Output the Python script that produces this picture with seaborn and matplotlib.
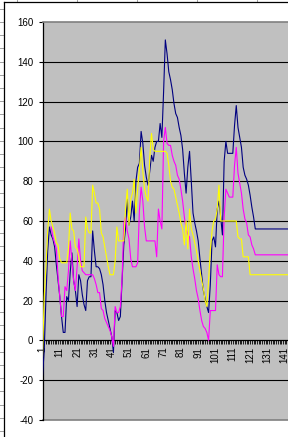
import numpy as np
import pandas as pd
import matplotlib
matplotlib.use("Agg")
import matplotlib.pyplot as plt
import seaborn as sns
from matplotlib.lines import Line2D

plt.rcParams['font.family'] = ['Liberation Sans', 'DejaVu Sans']

# ---------------- data ----------------
categories = list(range(1, 151))

navy_values = [
    -18, -5, 22, 45, 57, 53, 51, 47, 38, 30,
    22, 12, 4, 4, 22, 20, 34, 44, 30, 25,
    17, 33, 30, 23, 18, 15, 30, 32, 32, 55,
    45, 37, 37, 36, 33, 28, 20, 14, 10, 6,
    2, -6, 15, 14, 10, 12, 30, 48, 56, 71,
    58, 62, 70, 60, 80, 87, 89, 105, 99, 88,
    82, 78, 85, 93, 90, 97, 100, 100, 109, 102,
    125, 151, 144, 135, 131, 126, 119, 114, 112, 107,
    103, 96, 84, 74, 87, 95, 80, 64, 59, 55,
    50, 41, 33, 25, 21, 17, 14, 28, 50, 52,
    47, 66, 70, 62, 53, 90, 100, 94, 94, 94,
    94, 108, 118, 107, 102, 97, 87, 83, 81, 78,
    73, 67, 62, 56, 56, 56, 56, 56, 56, 56,
    56, 56, 56, 56, 56, 56, 56, 56, 56, 56,
    56, 56, 56, 56, 56, 56, 56, 56, 56, 56,
]

magenta_values = [
    np.nan, np.nan, np.nan, np.nan, np.nan, 57, 52, 49, 46, 32,
    22, 12, 12, 27, 25, 35, 50, 40, 30, 25,
    37, 51, 40, 35, 34, 33, 33, 33, 33, 33,
    31, 28, 24, 24, 16, 15, 11, 9, 7, 5,
    2, -3, 17, 14, 14, 17, 31, 59, 62, 55,
    51, 41, 37, 37, 37, 39, 65, 77, 70, 57,
    50, 50, 50, 50, 50, 50, 42, 66, 60, 56,
    100, 107, 99, 98, 98, 93, 90, 88, 83, 81,
    76, 70, 62, 56, 53, 52, 42, 36, 31, 25,
    21, 15, 10, 7, 6, 4, 0, 15, 15, 15,
    15, 38, 33, 32, 32, 62, 76, 74, 72, 72,
    72, 88, 97, 84, 79, 74, 66, 61, 59, 53,
    52, 48, 46, 43, 43, 43, 43, 43, 43, 43,
    43, 43, 43, 43, 43, 43, 43, 43, 43, 43,
    43, 43, 43, 43, 43, 43, 43, 43, 43, 43,
]

yellow_values = [
    -8, 22, 37, 55, 66, 60, 57, 54, 49, 48,
    41, 39, 39, 39, 39, 46, 64, 56, 55, 47,
    46, 42, 37, 37, 37, 62, 56, 54, 54, 78,
    74, 69, 69, 66, 54, 52, 47, 42, 37, 33,
    33, 33, 40, 57, 50, 50, 50, 50, 66, 76,
    58, 71, 74, 81, 64, 76, 86, 97, 85, 76,
    72, 70, 92, 104, 96, 95, 95, 95, 95, 95,
    95, 95, 94, 88, 80, 77, 76, 72, 68, 64,
    59, 56, 48, 60, 46, 66, 56, 53, 49, 45,
    40, 35, 30, 26, 20, 17, 30, 45, 55, 60,
    61, 66, 78, 60, 60, 60, 60, 60, 60, 60,
    60, 60, 60, 52, 51, 51, 42, 42, 42, 42,
    33, 33, 33, 33, 33, 33, 33, 33, 33, 33,
    33, 33, 33, 33, 33, 33, 33, 33, 33, 33,
    33, 33, 33, 33, 33, 33, 33, 33, 33, 33,
]

series_names = ["Series1", "Series2", "Series3"]
series_colors = ["#000080", "#FF00FF", "#FFFF00"]
x_tick_labels = [str(i) for i in range(1, 142, 10)]
y_ticks = [-40, -20, 0, 20, 40, 60, 80, 100, 120, 140, 160]

df = pd.concat([
    pd.DataFrame({"category": categories, "value": navy_values, "series": series_names[0]}),
    pd.DataFrame({"category": categories, "value": magenta_values, "series": series_names[1]}),
    pd.DataFrame({"category": categories, "value": yellow_values, "series": series_names[2]}),
], ignore_index=True).dropna()

# ---------------- figure ----------------
W, H = 288, 437
fig = plt.figure(figsize=(W / 100, H / 100), dpi=100)
fig.patch.set_facecolor("white")

left_px, top_px, bottom_px = 42.5, 22, 420
right_px = 42.5 + 149 * 1.73
ax = fig.add_axes([left_px / W, 1 - bottom_px / H, (right_px - left_px) / W, (bottom_px - top_px) / H])
ax.set_facecolor("#C0C0C0")

for y in [-20, 20, 40, 60, 80, 100, 120, 140]:
    ax.axhline(y, color="black", lw=0.8, zorder=1)
ax.axhline(-40, color="#808080", lw=1.2, zorder=1, clip_on=False)

sns.lineplot(data=df, x="category", y="value", hue="series", hue_order=series_names,
             palette=dict(zip(series_names, series_colors)), estimator=None, sort=False,
             legend=False, linewidth=0.8, ax=ax, zorder=3)

ax.set_xlim(1, 150)
ax.set_ylim(-40, 160)
ax.set_xlabel("")
ax.set_ylabel("")

ax.spines["right"].set_visible(False)
ax.spines["top"].set_color("#808080")
ax.spines["top"].set_linewidth(1.2)
ax.spines["left"].set_color("black")
ax.spines["left"].set_linewidth(0.9)
ax.spines["bottom"].set_position(("data", 0))
ax.spines["bottom"].set_color("black")
ax.spines["bottom"].set_linewidth(0.9)
ax.spines["bottom"].set_zorder(2)

ax.set_xticks(categories)
lbls = [str(c) if str(c) in x_tick_labels else "" for c in categories]
ax.set_xticklabels(lbls)
ax.tick_params(axis="x", direction="out", length=3, width=0.6, pad=1.5,
               labelsize=7, labelrotation=90, color="black")
ax.set_yticks(y_ticks)
ax.set_yticklabels([str(v) for v in y_ticks])
ax.tick_params(axis="y", direction="out", length=3, width=0.8, pad=3.5, labelsize=7)

# chart-area border and spreadsheet cell lines
fx = lambda px: px / W
fy = lambda py: 1 - py / H
for xx in [17, 77, 137, 197, 257]:
    fig.add_artist(Line2D([fx(xx), fx(xx)], [fy(0), fy(2)], color="#A0A0A0", lw=0.7))
yy = 8.7
while yy < H:
    fig.add_artist(Line2D([fx(0), fx(3)], [fy(yy), fy(yy)], color="#A0A0A0", lw=0.7))
    yy += 13.2
fig.add_artist(Line2D([fx(3.5), fx(3.5)], [fy(2), fy(H)], color="black", lw=0.9))
fig.add_artist(Line2D([fx(3.5), fx(W)], [fy(2.3), fy(2.3)], color="black", lw=0.9))

fig.savefig("out.png", dpi=100)
